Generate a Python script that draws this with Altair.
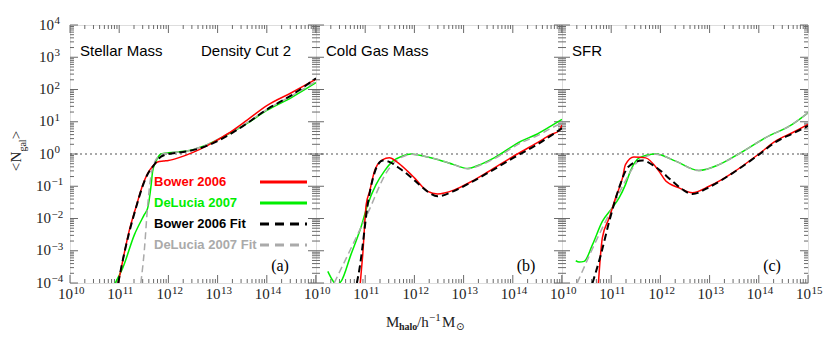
import altair as alt
import pandas as pd

# ---------------- data (log10 of halo mass, log10 of <N_gal>) ----------------
# Panel (a) Stellar Mass
a_bower_x = [10.98, 11.1, 11.2, 11.35, 11.48, 11.58, 11.68, 11.78, 11.9, 12.0, 12.2, 12.5, 12.8, 13.2, 13.6, 14.0, 14.5, 15.0]
a_bower_y = [-4.0, -3.1, -2.4, -1.6, -0.95, -0.6, -0.38, -0.25, -0.22, -0.2, -0.12, 0.05, 0.27, 0.62, 1.05, 1.5, 1.9, 2.32]
a_delucia_x = [10.92, 11.07, 11.31, 11.51, 11.58, 11.65, 11.68, 11.75, 11.85, 12.0, 12.4, 12.8, 13.2, 13.6, 14.0, 14.5, 15.0]
a_delucia_y = [-4.0, -3.54, -2.5, -1.88, -1.67, -0.95, -0.53, -0.22, 0.0, 0.04, 0.1, 0.3, 0.6, 0.95, 1.35, 1.75, 2.21]
a_bfit_x = [10.98, 11.1, 11.2, 11.35, 11.48, 11.58, 11.68, 11.75, 11.85, 12.0, 12.3, 12.6, 13.0, 13.5, 14.0, 14.5, 15.0]
a_bfit_y = [-4.0, -3.1, -2.45, -1.62, -0.98, -0.62, -0.4, -0.25, -0.08, 0.0, 0.06, 0.16, 0.4, 0.85, 1.38, 1.82, 2.35]
a_dfit_x = [11.44, 11.51, 11.58, 11.65, 11.72, 11.85, 12.0, 12.4, 12.8, 13.2, 13.6, 14.0, 14.5, 15.0]
a_dfit_y = [-4.0, -3.0, -1.57, -0.63, -0.25, -0.02, 0.03, 0.1, 0.3, 0.62, 0.97, 1.38, 1.8, 2.25]

# Panel (b) Cold Gas Mass
b_bower_x = [10.90, 10.95, 11.02, 11.09, 11.19, 11.25, 11.35, 11.49, 11.65, 11.86, 12.0, 12.27, 12.47, 12.8, 13.15, 13.5, 14.0, 14.5, 14.77, 14.94, 15.0]
b_bower_y = [-4.0, -3.12, -1.57, -1.16, -0.53, -0.33, -0.18, -0.12, -0.25, -0.53, -0.74, -1.16, -1.24, -1.12, -0.86, -0.55, -0.08, 0.35, 0.6, 0.72, 0.9]
b_delucia_x = [10.24, 10.33, 10.41, 10.51, 10.71, 10.91, 11.05, 11.22, 11.39, 11.56, 11.75, 11.93, 12.2, 12.47, 12.8, 13.08, 13.3, 13.62, 14.17, 14.5, 14.78, 15.0]
b_delucia_y = [-3.64, -3.9, -4.05, -3.95, -3.12, -2.29, -1.57, -0.95, -0.53, -0.22, -0.07, 0.0, -0.07, -0.17, -0.33, -0.45, -0.35, -0.12, 0.4, 0.62, 0.87, 1.07]
b_bfit_x = [10.83, 10.9, 10.95, 11.05, 11.15, 11.25, 11.36, 11.5, 11.7, 11.9, 12.1, 12.3, 12.47, 12.8, 13.15, 13.5, 14.0, 14.5, 15.0]
b_bfit_y = [-4.0, -3.4, -2.81, -1.57, -0.8, -0.35, -0.2, -0.25, -0.45, -0.68, -0.95, -1.2, -1.31, -1.15, -0.88, -0.58, -0.13, 0.3, 0.8]
b_dfit_x = [10.37, 11.05, 11.45, 11.6, 11.8, 11.95, 12.2, 12.5, 12.8, 13.08, 13.3, 13.62, 14.17, 14.5, 14.78, 15.0]
b_dfit_y = [-4.0, -1.84, -0.53, -0.25, -0.06, -0.01, -0.07, -0.18, -0.33, -0.46, -0.37, -0.15, 0.35, 0.57, 0.8, 0.96]

# Panel (c) SFR
c_bower_x = [10.74, 10.82, 10.96, 11.09, 11.23, 11.29, 11.46, 11.7, 11.97, 12.11, 12.38, 12.65, 12.99, 13.46, 14.0, 14.34, 14.68, 15.0]
c_bower_y = [-4.0, -2.6, -1.98, -1.36, -0.74, -0.33, -0.09, -0.12, -0.53, -0.84, -1.05, -1.2, -1.0, -0.59, 0.0, 0.4, 0.66, 0.92]
c_delucia_x = [10.28, 10.35, 10.45, 10.62, 10.82, 11.02, 11.16, 11.29, 11.39, 11.57, 11.9, 12.31, 12.78, 13.19, 13.59, 14.13, 14.68, 15.0]
c_delucia_y = [-3.31, -3.35, -3.33, -2.81, -2.09, -1.67, -1.36, -0.95, -0.53, -0.12, 0.0, -0.22, -0.51, -0.33, 0.0, 0.5, 0.92, 1.28]
c_bfit_x = [10.62, 10.79, 10.96, 11.16, 11.29, 11.45, 11.63, 11.9, 12.24, 12.45, 12.65, 13.0, 13.46, 14.0, 14.34, 14.68, 15.0]
c_bfit_y = [-4.0, -3.12, -2.09, -1.05, -0.53, -0.28, -0.2, -0.4, -0.84, -1.1, -1.24, -1.02, -0.6, -0.02, 0.37, 0.63, 0.87]
c_dfit_x = [10.31, 10.6, 11.02, 11.3, 11.5, 11.7, 11.9, 12.31, 12.78, 13.19, 13.59, 14.13, 14.68, 15.0]
c_dfit_y = [-4.0, -3.0, -1.67, -0.8, -0.3, -0.08, -0.01, -0.22, -0.51, -0.33, 0.0, 0.5, 0.92, 1.28]

panel_titles = ["Stellar Mass", "Cold Gas Mass", "SFR"]
panel_tags = ["(a)", "(b)", "(c)"]
series_names = ["Bower 2006", "DeLucia 2007", "Bower 2006 Fit", "DeLucia 2007 Fit"]

# tick labels: base "10" with exponent
x_exps = [10, 11, 12, 13, 14, 15]
x_exp_labels = ["10", "11", "12", "13", "14", "15"]
y_exps = [4, 3, 2, 1, 0, -1, -2, -3, -4]
y_exp_labels = ["4", "3", "2", "1", "0", "\u22121", "\u22122", "\u22123", "\u22124"]

# ---------------- styling ----------------
W, H = 246, 258
SERIF = "Liberation Serif"
SANS = "Liberation Sans"
FRAME = "#6a6a6a"
TICK = "#6a6a6a"
LAB = "#222222"
RED, GREEN, BLACK, GRAY = "#ff0000", "#00ee00", "#000000", "#aaaaaa"
styles = {
    "Bower 2006": dict(color=RED, strokeWidth=1.5),
    "DeLucia 2007": dict(color=GREEN, strokeWidth=1.5),
    "Bower 2006 Fit": dict(color=BLACK, strokeWidth=2, strokeDash=[7, 4]),
    "DeLucia 2007 Fit": dict(color=GRAY, strokeWidth=1.5, strokeDash=[7, 4]),
}

xs = alt.Scale(type="log", domain=[1e10, 1e15], nice=False)
ys = alt.Scale(type="log", domain=[1e-4, 1e4], nice=False)
X = alt.X("m:Q", scale=xs, axis=None)
Y = alt.Y("n:Q", scale=ys, axis=None)


def line_df(xl, yl):
    return pd.DataFrame({"m": [10.0 ** v for v in xl], "n": [10.0 ** v for v in yl], "i": list(range(len(xl)))})


def txt(t, x, y, **kw):
    return alt.Chart(pd.DataFrame({"t": [t]})).mark_text(**kw).encode(x=alt.value(x), y=alt.value(y), text="t:N")


def panel(idx, series, show_y, show_last_x):
    layers = []
    # ticks
    xmaj = pd.DataFrame({"m": [10.0 ** e for e in x_exps]})
    xmin = pd.DataFrame({"m": [k * 10.0 ** e for e in x_exps[:-1] for k in range(2, 10)]})
    ymaj = pd.DataFrame({"n": [10.0 ** e for e in y_exps]})
    ymin = pd.DataFrame({"n": [k * 10.0 ** e for e in y_exps[1:] for k in range(2, 10)]})
    for df, ln in [(xmaj, 8), (xmin, 4)]:
        layers.append(alt.Chart(df).mark_rule(color=TICK, strokeWidth=1).encode(x=X, y=alt.value(H), y2=alt.value(H - ln)))
        layers.append(alt.Chart(df).mark_rule(color=TICK, strokeWidth=1).encode(x=X, y=alt.value(0), y2=alt.value(ln)))
    for df, ln in [(ymaj, 8), (ymin, 4)]:
        layers.append(alt.Chart(df).mark_rule(color=TICK, strokeWidth=1).encode(y=Y, x=alt.value(0), x2=alt.value(ln)))
        layers.append(alt.Chart(df).mark_rule(color=TICK, strokeWidth=1).encode(y=Y, x=alt.value(W), x2=alt.value(W - ln)))
    # x tick labels
    n = len(x_exps) if show_last_x else len(x_exps) - 1
    xlab = pd.DataFrame({"m": [10.0 ** e for e in x_exps[:n]], "e": x_exp_labels[:n], "b": ["10"] * n})
    layers.append(alt.Chart(xlab).mark_text(font=SERIF, fontSize=15, align="right", baseline="alphabetic",
                                            color=LAB, dx=3).encode(x=X, y=alt.value(H + 16), text="b:N"))
    layers.append(alt.Chart(xlab).mark_text(font=SERIF, fontSize=11, align="left", baseline="alphabetic",
                                            color=LAB, dx=3.5).encode(x=X, y=alt.value(H + 11), text="e:N"))
    # y tick labels
    if show_y:
        ylab = pd.DataFrame({"n": [10.0 ** e for e in y_exps], "e": y_exp_labels, "b": ["10"] * len(y_exps),
                             "neg": [e < 0 for e in y_exps]})
        for neg, jx in [(False, -16), (True, -19)]:
            d = ylab[ylab["neg"] == neg]
            layers.append(alt.Chart(d).mark_text(font=SERIF, fontSize=15, align="right", baseline="alphabetic",
                                                 color=LAB, dy=4.5).encode(y=Y, x=alt.value(jx), text="b:N"))
            layers.append(alt.Chart(d).mark_text(font=SERIF, fontSize=11, align="left", baseline="alphabetic",
                                                 color=LAB, dy=-1).encode(y=Y, x=alt.value(jx + 0.5), text="e:N"))
    # dotted unity line
    layers.append(alt.Chart(pd.DataFrame({"n": [1.0]})).mark_rule(color="#555", strokeWidth=1.2, strokeDash=[2, 3])
                  .encode(y=Y, x=alt.value(0), x2=alt.value(W)))
    # curves
    for name in ["DeLucia 2007", "DeLucia 2007 Fit", "Bower 2006", "Bower 2006 Fit"]:
        xl_, yl_ = series[name]
        layers.append(alt.Chart(line_df(xl_, yl_)).mark_line(clip=True, interpolate="monotone", **styles[name])
                      .encode(x=X, y=Y, order="i:Q"))
    # panel labels
    layers.append(txt(panel_titles[idx], 10, 26, font=SANS, fontSize=15, align="left", baseline="middle", color="black"))
    layers.append(txt(panel_tags[idx], 210, 241, font=SERIF, fontSize=16, align="center", baseline="middle", color="black"))
    return layers


series_a = {"Bower 2006": (a_bower_x, a_bower_y), "DeLucia 2007": (a_delucia_x, a_delucia_y),
            "Bower 2006 Fit": (a_bfit_x, a_bfit_y), "DeLucia 2007 Fit": (a_dfit_x, a_dfit_y)}
series_b = {"Bower 2006": (b_bower_x, b_bower_y), "DeLucia 2007": (b_delucia_x, b_delucia_y),
            "Bower 2006 Fit": (b_bfit_x, b_bfit_y), "DeLucia 2007 Fit": (b_dfit_x, b_dfit_y)}
series_c = {"Bower 2006": (c_bower_x, c_bower_y), "DeLucia 2007": (c_delucia_x, c_delucia_y),
            "Bower 2006 Fit": (c_bfit_x, c_bfit_y), "DeLucia 2007 Fit": (c_dfit_x, c_dfit_y)}

la = panel(0, series_a, True, False)
lb = panel(1, series_b, False, False)
lc = panel(2, series_c, False, True)

# extra text in panel a
la.append(txt("Density Cut 2", 221, 26, font=SANS, fontSize=15, align="right", baseline="middle", color="black"))
leg_colors = [RED, GREEN, BLACK, GRAY]
for i, (name, col) in enumerate(zip(series_names, leg_colors)):
    yy = 157 + 21 * i
    la.append(txt(name, 84, yy, font=SANS, fontSize=13, fontWeight="bold", align="left", baseline="middle", color=col))
    st = dict(styles[name])
    st["strokeWidth"] = 3
    if "strokeDash" in st:
        st["strokeDash"] = [9, 6]
    la.append(alt.Chart(pd.DataFrame({"t": [name]})).mark_rule(**st)
              .encode(x=alt.value(190), x2=alt.value(237), y=alt.value(yy)))
# y-axis title  <N_gal>
la.append(txt("<", -54, 142, font=SERIF, fontSize=15, angle=270, align="center", baseline="middle", color=LAB))
la.append(txt("N", -54, 132, font=SERIF, fontSize=15, angle=270, align="center", baseline="middle", color=LAB))
la.append(txt("gal", -47, 120.5, font=SERIF, fontSize=10, angle=270, align="center", baseline="middle", color=LAB))
la.append(txt(">", -54, 110, font=SERIF, fontSize=15, angle=270, align="center", baseline="middle", color=LAB))
# x-axis title  M_halo / h^-1 M_sun  (under panel b)
lb.append(txt("M", 70, 297, font=SERIF, fontSize=15, align="left", baseline="middle", color=LAB))
lb.append(txt("halo", 83, 302, font=SERIF, fontSize=10, fontWeight="bold", align="left", baseline="middle", color=LAB))
lb.append(txt("/h", 101, 297, font=SERIF, fontSize=15, align="left", baseline="middle", color=LAB))
lb.append(txt("\u22121", 113, 293, font=SERIF, fontSize=11, align="left", baseline="middle", color=LAB))
lb.append(txt("M", 126, 297, font=SERIF, fontSize=15, align="left", baseline="middle", color=LAB))
lb.append(txt("\u2299", 140, 302, font="DejaVu Sans", fontSize=10, align="left", baseline="middle", color=LAB))

pa = alt.layer(*la).properties(width=W, height=H)
pb = alt.layer(*lb).properties(width=W, height=H)
pc = alt.layer(*lc).properties(width=W, height=H)

chart = (alt.hconcat(pa, pb, pc, spacing=0)
         .properties(bounds="flush", padding={"left": 0, "top": 6, "right": 0, "bottom": 0})
         .configure_view(stroke=FRAME, strokeWidth=1.5)
         .configure(background="white"))

chart.save("out.html", embed_options={"renderer": "svg", "actions": False})
